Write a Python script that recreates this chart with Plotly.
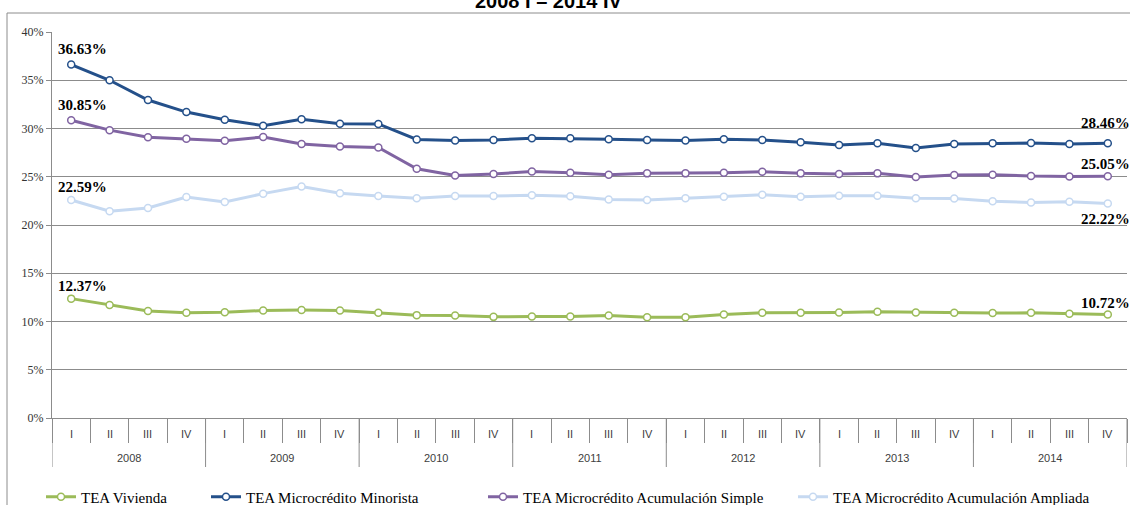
import plotly.graph_objects as go

# Data (TEA, %)
YEARS = ["2008", "2009", "2010", "2011", "2012", "2013", "2014"]
QUARTERS = ["I", "II", "III", "IV"]
PERIODS = [f"{y} {q}" for y in YEARS for q in QUARTERS]

VIVIENDA = [12.37, 11.70, 11.10, 10.90, 10.97, 11.14, 11.18, 11.14, 10.90, 10.66,
            10.62, 10.48, 10.52, 10.52, 10.62, 10.45, 10.45, 10.73, 10.90, 10.90,
            10.94, 11.00, 10.94, 10.90, 10.87, 10.90, 10.80, 10.72]
MINORISTA = [36.63, 35.00, 32.95, 31.70, 30.90, 30.29, 30.96, 30.50, 30.47, 28.86,
             28.75, 28.80, 29.00, 28.98, 28.89, 28.82, 28.75, 28.89, 28.82, 28.58,
             28.30, 28.47, 27.99, 28.40, 28.47, 28.50, 28.40, 28.46]
SIMPLE = [30.85, 29.83, 29.10, 28.93, 28.72, 29.13, 28.40, 28.13, 28.03, 25.83,
          25.14, 25.28, 25.55, 25.42, 25.21, 25.35, 25.35, 25.42, 25.52, 25.35,
          25.28, 25.35, 24.97, 25.17, 25.21, 25.07, 25.03, 25.05]
AMPLIADA = [22.59, 21.42, 21.76, 22.90, 22.39, 23.25, 23.98, 23.29, 23.00, 22.77,
            23.00, 23.00, 23.08, 22.97, 22.64, 22.60, 22.78, 22.92, 23.13, 22.92,
            23.02, 23.02, 22.78, 22.74, 22.47, 22.33, 22.40, 22.22]

SERIES = [
    ("TEA Vivienda", VIVIENDA, "#9BBB59"),
    ("TEA Microcrédito Minorista", MINORISTA, "#24508A"),
    ("TEA Microcrédito Acumulación Simple", SIMPLE, "#8064A2"),
    ("TEA Microcrédito Acumulación Ampliada", AMPLIADA, "#C6D9F1"),
]

GRID = "#8C8C8C"
SERIF = "Liberation Serif"
SANS = "Liberation Sans"

# plot area in pixels: x 52..1127, y 32..418
W, H = 1130, 505
ML, MR, MT, MB = 52, 3, 32, 87
PW, PH = W - ML - MR, H - MT - MB


def px_x(p):
    return (p - ML) / PW


def px_y(p):
    return (H - MB - p) / PH


fig = go.Figure()
legend_x = [41, 206, 483, 793]
for i, (name, vals, clr) in enumerate(SERIES):
    lg = "legend" if i == 0 else f"legend{i + 1}"
    fig.add_trace(go.Scatter(
        x=PERIODS, y=vals, name=name, mode="lines+markers",
        line=dict(color=clr, width=3),
        marker=dict(symbol="circle", size=7, color="white", line=dict(color=clr, width=1.5)),
        legend=lg,
    ))

# data labels: first and last point of each series
label_shift = {
    "TEA Vivienda": ((11, 13), (-2, 12)),
    "TEA Microcrédito Minorista": ((11, 16), (-2, 20)),
    "TEA Microcrédito Acumulación Simple": ((11, 15), (-2, 12)),
    "TEA Microcrédito Acumulación Ampliada": ((11, 13), (-2, -15)),
}
annotations = []
for name, vals, clr in SERIES:
    (lx, ly), (rx, ry) = label_shift[name]
    for idx, xs, ys in ((0, lx, ly), (len(vals) - 1, rx, ry)):
        annotations.append(dict(
            x=PERIODS[idx], y=vals[idx], text=f"<b>{vals[idx]:.2f}%</b>",
            showarrow=False, xshift=xs, yshift=ys,
            font=dict(family=SERIF, size=15, color="black"),
        ))

# category labels (two levels)
for i, p in enumerate(PERIODS):
    annotations.append(dict(
        x=p, y=0, yref="paper", yanchor="middle", yshift=-16,
        text=p.split(" ")[1], showarrow=False,
        font=dict(family=SANS, size=11, color="#404040"),
    ))
for k, y in enumerate(YEARS):
    annotations.append(dict(
        x=k * 4 + 1.5, y=0, yref="paper", yanchor="middle", yshift=-40,
        text=y, showarrow=False,
        font=dict(family=SANS, size=11, color="#404040"),
    ))

# title (cut off at the top, as in the source)
annotations.append(dict(
    x=px_x(548), y=1, xref="paper", yref="paper", xanchor="center",
    yanchor="bottom", yshift=18,
    text="<b>2008 I – 2014 IV</b>", showarrow=False,
    font=dict(family=SANS, size=20, color="black"),
))

shapes = []
# year dividers
for k in range(len(YEARS) + 1):
    shapes.append(dict(
        type="line", xref="x", yref="paper", x0=k * 4 - 0.5, x1=k * 4 - 0.5,
        y0=0, y1=px_y(467), line=dict(color=GRID, width=1),
    ))
# chart border
shapes.append(dict(
    type="rect", xref="paper", yref="paper", x0=px_x(7), x1=px_x(1200),
    y0=px_y(600), y1=px_y(13), line=dict(color="#8C8C8C", width=1),
    fillcolor="rgba(0,0,0,0)", layer="below",
))

legends = {}
for i, lx in enumerate(legend_x):
    key = "legend" if i == 0 else f"legend{i + 1}"
    legends[key] = dict(
        x=px_x(lx), y=px_y(497), xanchor="left", yanchor="middle",
        orientation="h", bgcolor="rgba(0,0,0,0)", borderwidth=0,
        font=dict(family=SERIF, size=15, color="black"),
        itemwidth=30, tracegroupgap=0,
    )

fig.update_layout(
    width=W, height=H,
    margin=dict(l=ML, r=MR, t=MT, b=MB, autoexpand=False),
    paper_bgcolor="white", plot_bgcolor="white",
    showlegend=True,
    annotations=annotations,
    shapes=shapes,
    **legends,
)
fig.update_xaxes(
    type="category", range=[-0.5, len(PERIODS) - 0.5],
    showticklabels=False, showgrid=False,
    ticks="outside", tickson="boundaries", ticklen=24, tickcolor=GRID,
    showline=True, linecolor=GRID, linewidth=1,
)
fig.update_yaxes(
    range=[0, 40], dtick=5, ticksuffix="%",
    showgrid=True, gridcolor=GRID, gridwidth=1,
    showline=True, linecolor=GRID, linewidth=1,
    ticks="outside", ticklen=5, tickcolor=GRID,
    tickfont=dict(family=SERIF, size=12, color="#333333"),
    zeroline=False,
)

# the page's default 8px body margin would shift the whole figure
fig.write_html(
    "out.html",
    config={"displayModeBar": False},
    post_script="document.body.style.margin='0';",
)
